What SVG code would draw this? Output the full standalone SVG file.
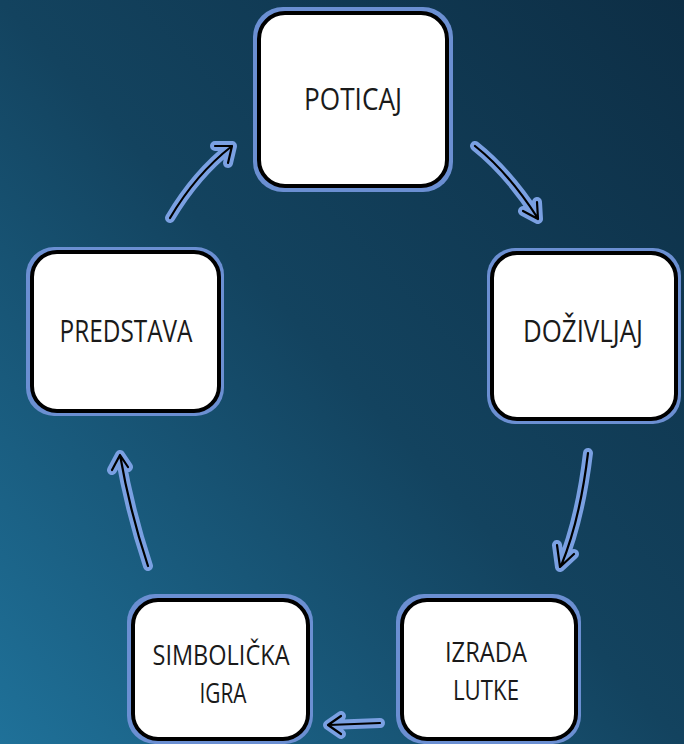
<svg xmlns="http://www.w3.org/2000/svg" width="684" height="744" viewBox="0 0 684 744">
<defs>
<linearGradient id="bg" x1="1" y1="0" x2="0" y2="1">
<stop offset="0" stop-color="#0d2e45"/>
<stop offset="0.5" stop-color="#13435f"/>
<stop offset="1" stop-color="#1f7199"/>
</linearGradient>
<style>
.halo{fill:#6b8fd2}
.box{fill:#fff;stroke:#000;stroke-width:4}
.lbl{font-family:"Open Sans","Noto Sans","DejaVu Sans",sans-serif;font-size:31px;fill:#1a1a1a;text-anchor:middle}
.sm{font-size:28px}
.ab{fill:none;stroke:#7aa0e2;stroke-width:10;stroke-linecap:round;stroke-linejoin:round}
.ak{fill:none;stroke:#000;stroke-width:2.2;stroke-linecap:round;stroke-linejoin:round}
</style>
</defs>
<rect width="684" height="744" fill="url(#bg)"/>

<g id="n-poticaj">
<rect class="halo" x="253" y="7" width="200" height="185" rx="30"/>
<rect class="box" x="259" y="13" width="188" height="173" rx="26"/>
<text class="lbl" x="353" y="110" textLength="98" lengthAdjust="spacingAndGlyphs">POTICAJ</text>
</g>

<g id="n-dozivljaj">
<rect class="halo" x="487" y="248" width="194" height="176" rx="28"/>
<rect class="box" x="492" y="253" width="184" height="166" rx="25"/>
<text class="lbl" x="583" y="342" textLength="120" lengthAdjust="spacingAndGlyphs">DOŽIVLJAJ</text>
</g>

<g id="n-predstava">
<rect class="halo" x="26" y="247" width="198" height="169" rx="28"/>
<rect class="box" x="32" y="252" width="187" height="159" rx="25"/>
<text class="lbl" x="126" y="342" textLength="133" lengthAdjust="spacingAndGlyphs">PREDSTAVA</text>
</g>

<g id="n-izrada">
<rect class="halo" x="396" y="594" width="185" height="150" rx="28"/>
<rect class="box" x="402" y="600" width="174" height="139" rx="25"/>
<text class="lbl sm" x="486" y="662" textLength="82" lengthAdjust="spacingAndGlyphs">IZRADA</text>
<text class="lbl sm" x="486" y="700" textLength="66" lengthAdjust="spacingAndGlyphs">LUTKE</text>
</g>

<g id="n-simbolicka">
<rect class="halo" x="127" y="594" width="186" height="150" rx="28"/>
<rect class="box" x="133" y="600" width="175" height="139" rx="25"/>
<text class="lbl sm" x="221" y="665" textLength="137" lengthAdjust="spacingAndGlyphs">SIMBOLIČKA</text>
<text class="lbl sm" x="223" y="703" textLength="47" lengthAdjust="spacingAndGlyphs">IGRA</text>
</g>

<g id="connectors">
<path class="ab" d="M475,146 Q508,172 537,217 M523,211 L538,219 L537,202"/>
<path class="ak" d="M475,146 Q508,172 537,217 M523,211 L538,219 L537,202"/>
<path class="ab" d="M588,453 Q580,520 561,566 M557,545 L560,567 L574,554"/>
<path class="ak" d="M588,453 Q580,520 561,566 M557,545 L560,567 L574,554"/>
<path class="ab" d="M380,723 L329,725 M341,716 L328,725 L341,734"/>
<path class="ak" d="M380,723 L329,725 M341,716 L328,725 L341,734"/>
<path class="ab" d="M148,566 Q130,512 120,455 M112,470 L120,455 L128,467"/>
<path class="ak" d="M148,566 Q130,512 120,455 M112,470 L120,455 L128,467"/>
<path class="ab" d="M170,218 Q196,174 232,146 M215,146 L232,146 L228,163"/>
<path class="ak" d="M170,218 Q196,174 232,146 M215,146 L232,146 L228,163"/>
</g>
</svg>
